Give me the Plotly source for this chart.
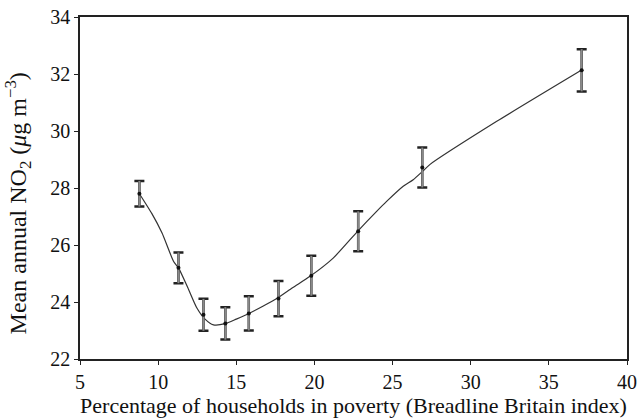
import plotly.graph_objects as go

# Observed group means with error bars
poverty_pct = [8.8, 11.3, 12.9, 14.3, 15.8, 17.7, 19.8, 22.8, 26.9, 37.1]
no2_mean = [27.8, 25.2, 23.55, 23.25, 23.6, 24.12, 24.92, 26.48, 28.72, 32.13]
no2_err = [0.45, 0.54, 0.56, 0.57, 0.6, 0.62, 0.7, 0.7, 0.7, 0.74]

# Smoothed fitted curve
curve_x = [8.8, 9.6, 10.25, 10.99, 11.31, 11.9, 12.48, 13.0, 13.54, 14.29, 15.0, 15.78,
           16.7, 17.59, 18.6, 19.72, 21.2, 22.76, 23.98, 24.62, 25.68, 26.32, 26.95,
           27.38, 31.64, 37.07]
curve_y = [27.8, 27.1, 26.42, 25.42, 25.19, 24.5, 23.79, 23.4, 23.2, 23.24, 23.4, 23.59,
           23.85, 24.12, 24.5, 24.9, 25.54, 26.48, 27.18, 27.53, 28.06, 28.29, 28.6,
           28.82, 30.33, 32.13]

x_ticks = [5, 10, 15, 20, 25, 30, 35, 40]
y_ticks = [22, 24, 26, 28, 30, 32, 34]

x_title = "Percentage of households in poverty (Breadline Britain index)"
y_title = "Mean annual NO<sub>2</sub> (<i>μ</i>g m<sup>−3</sup>)"

font_family = "Liberation Serif, Times New Roman, serif"

fig = go.Figure()

# fitted curve
fig.add_trace(go.Scatter(
    x=curve_x, y=curve_y, mode="lines",
    line=dict(color="#333333", width=1.2, shape="spline", smoothing=0.6),
    hoverinfo="skip", showlegend=False,
))

# error bar caps (black)
fig.add_trace(go.Scatter(
    x=poverty_pct, y=no2_mean, mode="markers",
    marker=dict(size=1, color="rgba(0,0,0,0)"),
    error_y=dict(type="data", array=no2_err, visible=True,
                 color="#222222", thickness=2.5, width=5),
    showlegend=False,
))

# error bar stems (grey) + points
fig.add_trace(go.Scatter(
    x=poverty_pct, y=no2_mean, mode="markers",
    marker=dict(size=4, color="#111111"),
    error_y=dict(type="data", array=no2_err, visible=True,
                 color="#8a8a8a", thickness=2, width=0),
    showlegend=False,
))

axis_common = dict(
    showline=True, linecolor="#222222", linewidth=1.5, mirror=True,
    ticks="outside", ticklen=4, tickwidth=1.2, tickcolor="#222222",
    showgrid=False, zeroline=False, automargin=False,
    tickfont=dict(family=font_family, size=20, color="#111111"),
)

fig.update_layout(
    width=638, height=420,
    margin=dict(l=80, r=11, t=17, b=61),
    paper_bgcolor="white", plot_bgcolor="white",
    font=dict(family=font_family, color="#111111"),
    xaxis=dict(
        range=[5, 40], tickvals=x_ticks,
        title=dict(text=x_title, font=dict(family=font_family, size=22), standoff=2),
        **axis_common,
    ),
    yaxis=dict(range=[22, 34], tickvals=y_ticks, **axis_common),
    annotations=[dict(
        text=y_title, textangle=-90, showarrow=False,
        xref="paper", yref="paper", x=(18 - 80) / 547, y=0.455,
        xanchor="center", yanchor="middle",
        font=dict(family=font_family, size=24, color="#111111"),
    )],
)

fig.write_html("out.html")
